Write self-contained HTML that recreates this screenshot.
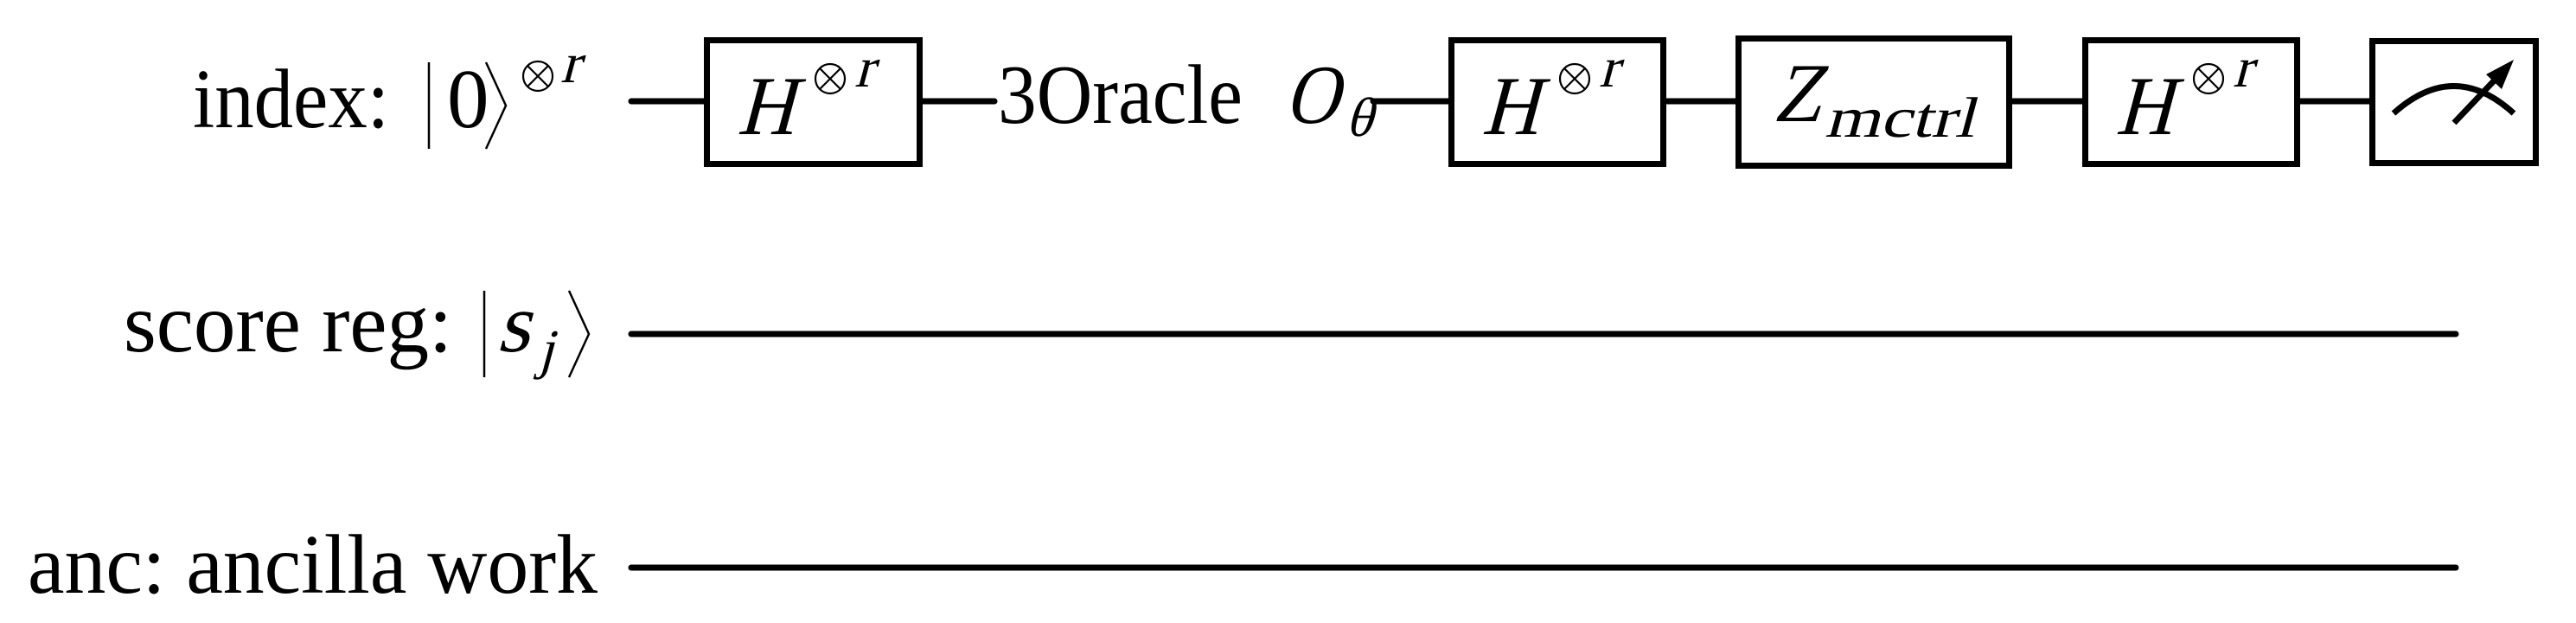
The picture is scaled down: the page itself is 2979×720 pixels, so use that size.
<!DOCTYPE html>
<html><head><meta charset="utf-8"><style>
html,body{margin:0;padding:0;background:#fff;}
svg{display:block;}
text{font-family:"Liberation Serif","Times New Roman",serif;fill:#000;font-style:normal;}
</style></head><body>
<svg width="2979" height="720" viewBox="0 0 2979 720" xmlns="http://www.w3.org/2000/svg">
<defs>
<g id="otimes" fill="none" stroke="#000" stroke-width="2.2">
<circle cx="0" cy="0" r="17"/>
<line x1="-12" y1="-12" x2="12" y2="12"/>
<line x1="-12" y1="12" x2="12" y2="-12"/>
</g>
</defs>
<g stroke="#000" stroke-width="7" stroke-linecap="round" fill="none">
<line x1="730" y1="117" x2="814" y2="117"/>
<line x1="1067" y1="117" x2="1150" y2="117"/>
<line x1="1588" y1="117" x2="1675" y2="117"/>
<line x1="1927" y1="117" x2="2007" y2="117"/>
<line x1="2327" y1="117" x2="2408" y2="117"/>
<line x1="2660" y1="117" x2="2743" y2="117"/>
<line x1="730" y1="386" x2="2840" y2="386"/>
<line x1="730" y1="656" x2="2840" y2="656"/>
</g>
<g stroke="#000" stroke-width="7" fill="#fff">
<rect x="817.5" y="46.5" width="246" height="143"/>
<rect x="1678.5" y="46.5" width="245" height="143"/>
<rect x="2010.5" y="44.5" width="313" height="147"/>
<rect x="2411.5" y="46.5" width="245" height="143"/>
<rect x="2743.5" y="47.5" width="189" height="141"/>
</g>
<path d="M2768 131 Q2838 68 2907 131" stroke="#000" stroke-width="7" fill="none"/>
<line x1="2838" y1="142" x2="2893" y2="84" stroke="#000" stroke-width="7"/>
<polygon points="2907,69 2875,86 2893,103" fill="#000"/>

<text x="223" y="147" font-size="97" textLength="227" lengthAdjust="spacingAndGlyphs">index:</text>
<line x1="496" y1="72" x2="496" y2="172" stroke="#000" stroke-width="2.5"/>
<text x="517" y="147" font-size="97">0</text>
<polyline points="562,72 585,122 562,172" stroke="#000" stroke-width="2.5" fill="none"/>
<use href="#otimes" x="622" y="88"/>
<text transform="translate(648,95) skewX(-15)" font-size="66">r</text>

<text x="143" y="406" font-size="97" textLength="380" lengthAdjust="spacingAndGlyphs">score reg:</text>
<line x1="560" y1="336" x2="560" y2="436" stroke="#000" stroke-width="2.5"/>
<text transform="translate(574,406) skewX(-15)" font-size="97" textLength="38" lengthAdjust="spacingAndGlyphs">s</text>
<text transform="translate(622,425) skewX(-15)" font-size="64">j</text>
<polyline points="658,336 681,386 658,436" stroke="#000" stroke-width="2.5" fill="none"/>

<text x="32" y="685" font-size="97" textLength="659" lengthAdjust="spacingAndGlyphs">anc: ancilla work</text>

<text transform="translate(852,155) skewX(-15)" font-size="97" textLength="66" lengthAdjust="spacingAndGlyphs">H</text>
<use href="#otimes" x="960" y="91"/>
<text transform="translate(988,100) skewX(-15)" font-size="66">r</text>

<text x="1154" y="142" font-size="97" textLength="283" lengthAdjust="spacingAndGlyphs">3Oracle</text>
<text transform="translate(1485,142) skewX(-15)" font-size="97" textLength="62" lengthAdjust="spacingAndGlyphs">O</text>
<text transform="translate(1556,157) skewX(-15)" font-size="64">θ</text>

<text transform="translate(1713,155) skewX(-15)" font-size="97" textLength="66" lengthAdjust="spacingAndGlyphs">H</text>
<use href="#otimes" x="1821" y="91"/>
<text transform="translate(1849,100) skewX(-15)" font-size="66">r</text>

<text transform="translate(2050,140) skewX(-15)" font-size="97" textLength="56" lengthAdjust="spacingAndGlyphs">Z</text>
<text transform="translate(2110,158) skewX(-15)" font-size="66" textLength="173" lengthAdjust="spacingAndGlyphs">mctrl</text>

<text transform="translate(2446,155) skewX(-15)" font-size="97" textLength="66" lengthAdjust="spacingAndGlyphs">H</text>
<use href="#otimes" x="2554" y="91"/>
<text transform="translate(2582,100) skewX(-15)" font-size="66">r</text>
</svg>
</body></html>
